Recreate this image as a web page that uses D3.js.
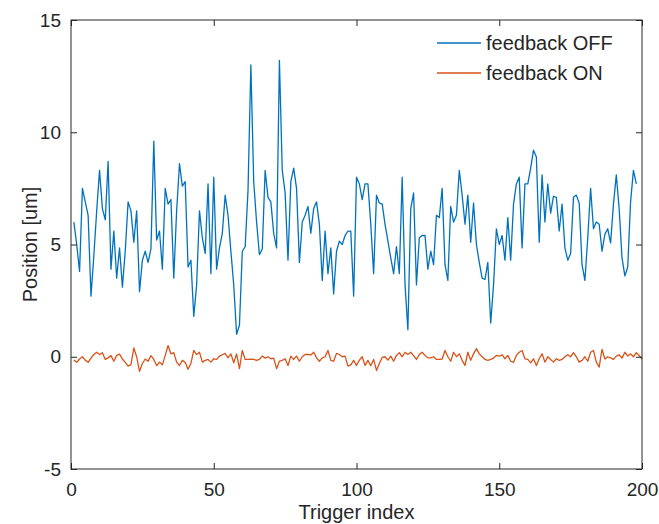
<!DOCTYPE html>
<html>
<head>
<meta charset="utf-8">
<script src="https://cdn.jsdelivr.net/npm/d3@7"></script>
<style>
  body { margin: 0; background: #fff; }
  svg { display: block; }
  text { font-family: "Liberation Sans", Arial, sans-serif; fill: #262626; }
</style>
</head>
<body>
<svg id="chart"></svg>
<script>
// feedback OFF, trigger index 1..198
const offValues = [
  6.0, 5.0, 3.8, 7.5, 6.9, 6.3, 2.7, 4.5, 6.5, 8.3,
  6.6, 6.1, 8.7, 3.9, 5.6, 3.5, 4.85, 3.1, 4.7, 6.9,
  6.5, 5.1, 6.5, 2.9, 4.3, 4.7, 4.2, 4.8, 9.6, 5.2,
  5.6, 3.9, 7.5, 6.8, 7.0, 3.5, 6.5, 8.6, 7.6, 7.8,
  4.0, 4.3, 1.8, 3.2, 6.5, 5.3, 4.6, 7.7, 3.7, 8.0,
  3.9, 4.85, 5.5, 7.2, 6.3, 4.7, 3.2, 1.0, 1.4, 4.7,
  4.9, 7.4, 13.0, 7.8, 6.0, 4.55, 4.8, 8.3, 7.1, 6.9,
  5.5, 4.85, 13.2, 8.3, 7.3, 4.3, 7.8, 8.4, 7.5, 4.2,
  6.0, 6.3, 6.7, 5.5, 6.6, 6.9, 5.9, 3.4, 5.6, 3.7,
  4.85, 2.8, 4.7, 5.15, 5.0, 5.4, 5.6, 5.6, 2.7, 8.0,
  7.7, 7.0, 7.7, 7.7, 5.9, 3.7, 7.2, 6.85, 6.8, 5.9,
  5.15, 4.4, 3.7, 4.9, 3.7, 8.0, 3.2, 1.2, 6.6, 7.3,
  3.2, 5.3, 5.4, 5.4, 3.9, 4.7, 4.1, 6.3, 6.2, 7.5,
  4.1, 3.4, 6.7, 6.0, 6.3, 8.3, 7.2, 5.9, 7.2, 5.1,
  6.85, 5.0, 4.2, 3.5, 3.44, 4.2, 1.5, 3.2, 5.7, 5.0,
  5.4, 4.3, 6.2, 4.3, 6.8, 7.7, 8.0, 4.85, 7.7, 7.7,
  8.4, 9.2, 8.9, 5.1, 8.1, 6.0, 7.7, 6.4, 7.15, 7.1,
  5.6, 6.8, 4.85, 4.3, 4.6, 7.1, 7.2, 6.85, 4.1, 3.4,
  5.3, 7.5, 5.7, 6.0, 5.9, 4.7, 5.45, 5.7, 5.07, 6.8,
  8.1, 6.6, 4.4, 3.6, 4.0, 6.9, 8.3, 7.7
];

// feedback ON, trigger index 1..200
const onValues = [
  -0.15, -0.25, -0.1, 0.0, -0.15, -0.25, -0.06, 0.1, 0.2, 0.1,
  0.18, -0.12, -0.05, 0.05, -0.2, 0.06, 0.12, -0.1, -0.25, -0.42,
  -0.35, 0.39, 0.0, -0.65, -0.3, -0.1, -0.2, 0.05, -0.12, -0.39,
  -0.24, -0.36, 0.05, 0.5, 0.13, 0.18, -0.24, -0.39, -0.16, -0.25,
  -0.56, -0.3, 0.28, 0.1, 0.2, -0.24, -0.16, -0.12, -0.24, -0.09,
  -0.12, 0.03, 0.09, 0.15, -0.05, 0.13, -0.27, 0.13, -0.53, 0.28,
  -0.12, -0.12, -0.11, -0.12, -0.16, -0.12, 0.03, -0.06, 0.0, -0.09,
  -0.06, -0.53, -0.2, -0.16, -0.09, -0.39, 0.03, -0.12, 0.03, -0.2,
  0.0, 0.1, 0.1, 0.08, 0.2, -0.05, -0.2, -0.05, 0.0, 0.28,
  -0.16, -0.2, 0.15, 0.1, 0.0, 0.03, -0.42, -0.36, -0.16, -0.39,
  -0.15, 0.0, -0.39, -0.16, -0.4, -0.12, -0.61, -0.3, -0.03, 0.0,
  -0.15, 0.03, -0.2, 0.06, 0.18, 0.0, 0.2, 0.1, 0.2, 0.05,
  -0.12, 0.1, 0.2, 0.06, -0.05, -0.05, 0.0, -0.12, -0.12, -0.1,
  0.28, 0.0, -0.2, 0.2, 0.0, 0.13, -0.16, -0.39, 0.2, -0.16,
  0.13, 0.36, 0.13, 0.0, -0.12, -0.16, -0.12, -0.06, 0.06, 0.03,
  0.09, -0.09, 0.06, -0.2, -0.25, 0.06, 0.2, 0.28, -0.09, -0.12,
  -0.27, -0.09, -0.39, -0.09, 0.13, -0.24, 0.0, -0.12, -0.24, -0.09,
  -0.16, -0.12, 0.0, 0.09, 0.0, 0.18, 0.0, -0.24, -0.16, 0.0,
  -0.2, 0.2, 0.28, -0.24, -0.46, 0.33, -0.1, 0.0, -0.05, -0.12,
  0.03, 0.09, -0.06, 0.2, 0.03, 0.13, 0.0, 0.18, 0.06, -0.1
];

const seriesNames = ["feedback OFF", "feedback ON"];
const seriesColors = ["#0072BD", "#D95319"];
const xTicks = [0, 50, 100, 150, 200];
const yTicks = [-5, 0, 5, 10, 15];

const width = 659,
    height = 524,
    margin = {top: 20, right: 17, bottom: 55, left: 71};

const svg = d3.select("#chart")
    .attr("width", width)
    .attr("height", height);

const x = d3.scaleLinear().domain([0, 200]).range([margin.left, width - margin.right]);
const y = d3.scaleLinear().domain([-5, 15]).range([height - margin.bottom, margin.top]);

const axisColor = "#262626";

//lines
const line = d3.line()
    .x((d, i) => x(i + 1))
    .y(d => y(d));

[offValues, onValues].forEach((vals, k) => {
    svg.append("path")
        .datum(vals)
        .attr("fill", "none")
        .attr("stroke", seriesColors[k])
        .attr("stroke-width", 1.3)
        .attr("stroke-linejoin", "round")
        .attr("d", line);
});

//axes, ticks point inward like matlab
function styleAxis(g) {
    g.select(".domain").remove();
    g.selectAll(".tick line").attr("stroke", axisColor);
    g.selectAll(".tick text")
        .attr("font-size", 19)
        .attr("fill", axisColor);
}

svg.append("g")
    .attr("transform", `translate(0,${y(-5)})`)
    .call(d3.axisBottom(x).tickValues(xTicks).tickSize(-6).tickPadding(14).tickFormat(d => d))
    .call(styleAxis);

svg.append("g")
    .attr("transform", `translate(0,${y(15)})`)
    .call(d3.axisTop(x).tickValues(xTicks).tickSize(-6).tickFormat(""))
    .call(styleAxis);

svg.append("g")
    .attr("transform", `translate(${x(0)},0)`)
    .call(d3.axisLeft(y).tickValues(yTicks).tickSize(-6).tickPadding(10).tickFormat(d => d))
    .call(styleAxis);

svg.append("g")
    .attr("transform", `translate(${x(200)},0)`)
    .call(d3.axisRight(y).tickValues(yTicks).tickSize(-6).tickFormat(""))
    .call(styleAxis);

svg.append("rect")
    .attr("x", x(0))
    .attr("y", y(15))
    .attr("width", x(200) - x(0))
    .attr("height", y(-5) - y(15))
    .attr("fill", "none")
    .attr("stroke", axisColor)
    .attr("stroke-width", 1);

//axis labels
svg.append("text")
    .attr("x", (x(0) + x(200)) / 2)
    .attr("y", height - 5)
    .attr("text-anchor", "middle")
    .attr("font-size", 20)
    .text("Trigger index");

svg.append("text")
    .attr("transform", `translate(30,${(y(15) + y(-5)) / 2}) rotate(-90)`)
    .attr("text-anchor", "middle")
    .attr("dy", "0.35em")
    .attr("font-size", 20)
    .text("Position [um]");

//legend
const legend = svg.append("g")
    .selectAll("g")
    .data(seriesNames)
    .join("g")
    .attr("transform", (d, i) => `translate(437,${43 + i * 30})`);

legend.append("line")
    .attr("x1", 0)
    .attr("x2", 44)
    .attr("stroke", (d, i) => seriesColors[i])
    .attr("stroke-width", 1.3);

legend.append("text")
    .attr("x", 49)
    .attr("dy", "0.35em")
    .attr("font-size", 20)
    .text(d => d);
</script>
</body>
</html>
